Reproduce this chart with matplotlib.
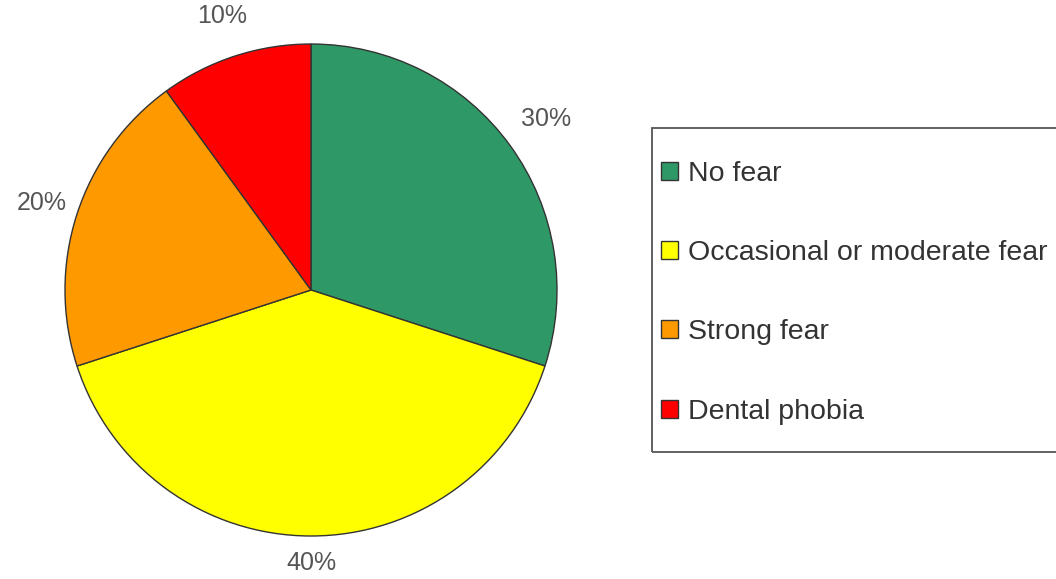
import numpy as np
import matplotlib.pyplot as plt
from matplotlib.patches import Rectangle

plt.rcParams["font.family"] = ["Liberation Sans", "DejaVu Sans"]

categories = ["No fear", "Occasional or moderate fear", "Strong fear", "Dental phobia"]
shares = [30, 40, 20, 10]
colors = ["#2E9966", "#FFFF00", "#FF9900", "#FF0000"]
label_dist = [1.18, 1.11, 1.15, 1.17]

W, H = 1056, 579
fig = plt.figure(figsize=(W / 100, H / 100), dpi=100)

# pie axes: centre ~ (311, 290) px, radius ~ 246 px
cx, cy, r = 311, 290, 246
ax = fig.add_axes([(cx - r) / W, (H - cy - r) / H, 2 * r / W, 2 * r / H])

wedges, texts, autotexts = ax.pie(
    shares,
    colors=colors,
    startangle=90,
    counterclock=False,
    autopct="%d%%",
    pctdistance=1.15,
    radius=1,
    wedgeprops={"edgecolor": "#333333", "linewidth": 1.0},
    textprops={"fontsize": 18, "color": "#555555"},
)
# push each percentage out along its wedge's middle angle
for w, t, d in zip(wedges, autotexts, label_dist):
    ang = np.deg2rad((w.theta1 + w.theta2) / 2)
    t.set_position((d * np.cos(ang), d * np.sin(ang)))
ax.set_xlim(-1, 1)
ax.set_ylim(-1, 1)
ax.set_aspect("equal")

# legend frame runs past the right edge, as in the reference
fig.patches.append(
    Rectangle(
        (652 / W, 1 - 452 / H),
        (1120 - 652) / W,
        (452 - 128) / H,
        transform=fig.transFigure,
        fill=False,
        edgecolor="#555555",
        linewidth=1.3,
        clip_on=False,
    )
)

leg = fig.legend(
    wedges,
    categories,
    loc="upper left",
    bbox_to_anchor=(661 / W, 1 - 161 / H),
    frameon=False,
    fontsize=20.5,
    labelspacing=1.87,
    handlelength=0.6,
    handleheight=0.6,
    handletextpad=0.35,
    borderpad=0,
    borderaxespad=0,
)
for t in leg.get_texts():
    t.set_color("#333333")

plt.savefig("out.png", dpi=100)
plt.close()
